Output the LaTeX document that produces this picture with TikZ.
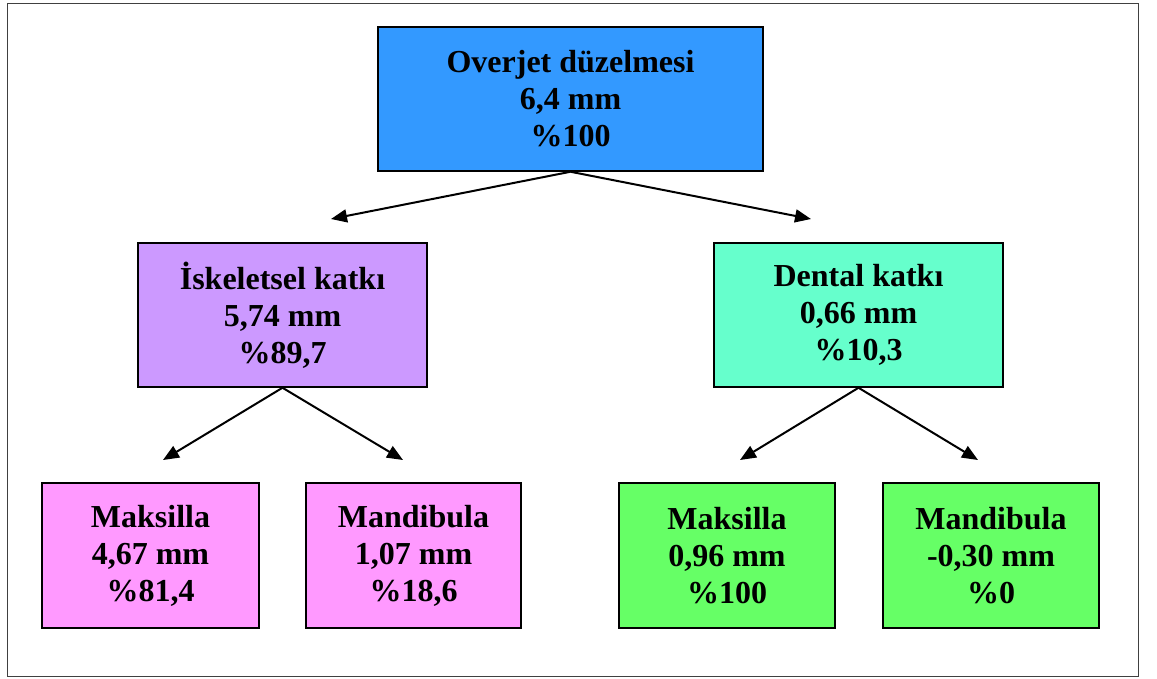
\documentclass[tikz,border=0pt]{standalone}
\usepackage{fontspec}
\setmainfont{Liberation Serif}
\usetikzlibrary{arrows.meta}
\definecolor{cblue}{HTML}{3399FF}
\definecolor{cpurple}{HTML}{CC99FF}
\definecolor{cteal}{HTML}{66FFCC}
\definecolor{cpink}{HTML}{FF99FF}
\definecolor{cgreen}{HTML}{66FF66}
\begin{document}
\begin{tikzpicture}[x=1pt,y=-1pt,
  box/.style={draw=black,line width=1.5pt,align=center,inner sep=0pt,
    font=\fontsize{32}{37}\selectfont\bfseries},
  conn/.style={line width=2pt,-{Triangle[length=16pt,width=13pt]}}]
\useasboundingbox (0,0) rectangle (1157,678);
\draw[line width=1pt,draw=black!75] (7,3) rectangle (1138,676);
\node[box,fill=cblue,minimum width=385pt,minimum height=144pt] (top) at (570.5,99) {Overjet düzelmesi\\6,4 mm\\\%100};
\node[box,fill=cpurple,minimum width=289pt,minimum height=144pt] (skel) at (282.5,315) {İskeletsel katkı\\5,74 mm\\\%89,7};
\node[box,fill=cteal,minimum width=289pt,minimum height=144pt] (dent) at (858.5,315) {Dental katkı\\0,66 mm\\\%10,3};
\node[box,fill=cpink,minimum width=217pt,minimum height=145pt] (smax) at (150.5,555.5) {Maksilla\\4,67 mm\\\%81,4};
\node[box,fill=cpink,minimum width=215pt,minimum height=145pt] (sman) at (413.5,555.5) {Mandibula\\1,07 mm\\\%18,6};
\node[box,fill=cgreen,minimum width=216pt,minimum height=145pt] (dmax) at (727,555.5) {Maksilla\\0,96 mm\\\%100};
\node[box,fill=cgreen,minimum width=216pt,minimum height=145pt] (dman) at (991,555.5) {Mandibula\\-0,30 mm\\\%0};
\coordinate (a1) at (331,219);
\coordinate (a2) at (811,219);
\coordinate (b1) at (163,460);
\coordinate (b2) at (403,460);
\coordinate (c1) at (740,460);
\coordinate (c2) at (978,460);
\draw[conn] (top.south) -- (a1);
\draw[conn] (top.south) -- (a2);
\draw[conn] (skel.south) -- (b1);
\draw[conn] (skel.south) -- (b2);
\draw[conn] (dent.south) -- (c1);
\draw[conn] (dent.south) -- (c2);
\end{tikzpicture}
\end{document}
